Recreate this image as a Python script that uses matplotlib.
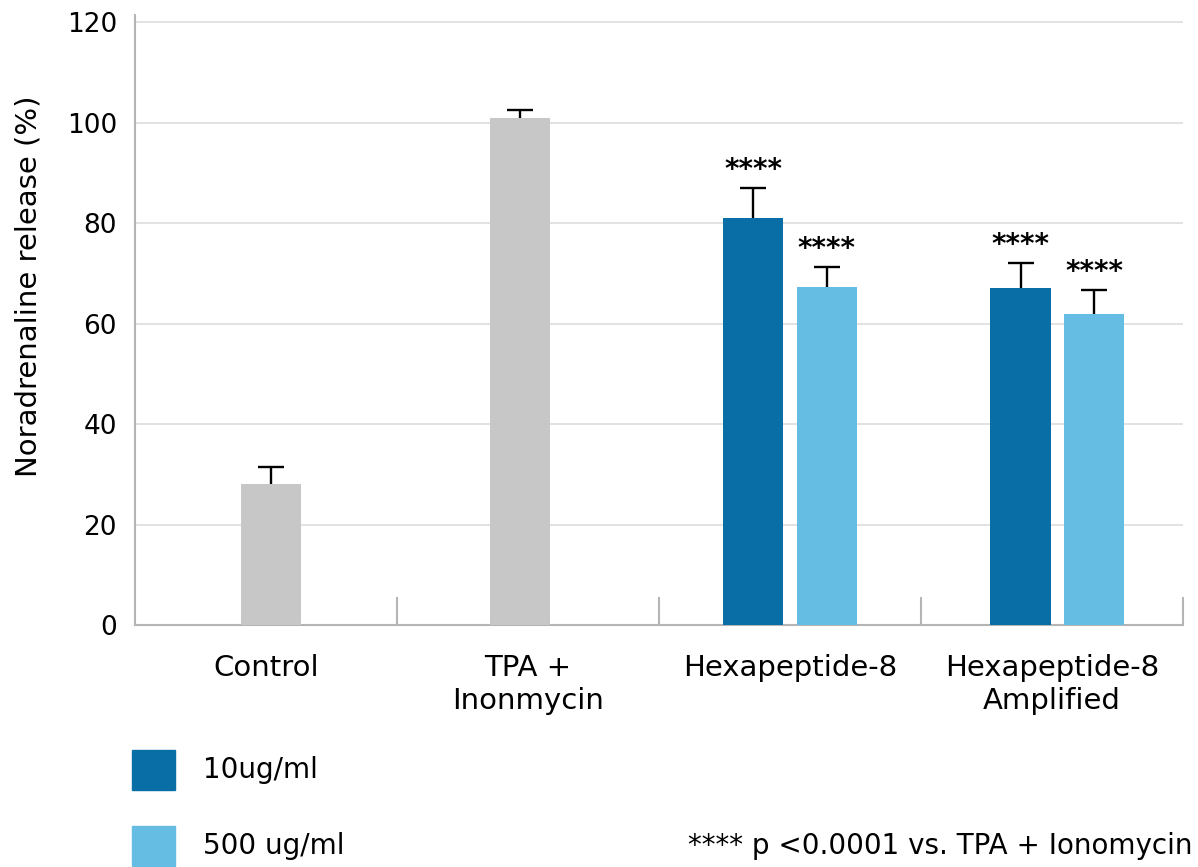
import numpy as np
import matplotlib
matplotlib.use("Agg")
import matplotlib.pyplot as plt
from matplotlib.patches import Rectangle

plt.rcParams["font.family"] = ["DejaVu Sans"]

categories = ["Control", "TPA +\nInonmycin", "Hexapeptide-8", "Hexapeptide-8\nAmplified"]
single_values = [28, 101]
single_errors = [3.4, 1.4]
dose_labels = ["10ug/ml", "500 ug/ml"]
low_dose_values = [81, 67]
low_dose_errors = [6, 5]
high_dose_values = [67.2, 62]
high_dose_errors = [4, 4.7]
star_text = "****"
footnote = "**** p <0.0001 vs. TPA + Ionomycin"
y_label = "Noradrenaline release (%)"
y_ticks = [0, 20, 40, 60, 80, 100, 120]

GRAY = "#C8C7C8"
DARK = "#0A6EA6"
LIGHT = "#66BDE3"

fig = plt.figure(figsize=(11.98, 8.67), dpi=100)
ax = fig.add_axes([0.1127, 0.279, 0.8748, 0.7037])

width = 0.23
offset = 0.14
err_kw = dict(color="black", linewidth=0, elinewidth=1.7, capsize=9.5,
              capthick=1.7, zorder=4)


def up_errorbar(xs, vals, errs):
    # only the upper whisker is drawn in the original
    _, caps, _ = ax.errorbar(xs, vals, yerr=[np.zeros(len(errs)), errs], **err_kw)
    caps[0].set_visible(False)


x_single = np.arange(len(single_values)) + np.array([0.02, -0.03])
ax.bar(x_single, single_values, width, color=GRAY, zorder=3)
up_errorbar(x_single, single_values, single_errors)

x_pair = np.arange(len(single_values), len(categories)) + np.array([0.0, 0.02])
ax.bar(x_pair - offset, low_dose_values, width, color=DARK, zorder=3)
ax.bar(x_pair + offset, high_dose_values, width, color=LIGHT, zorder=3)
up_errorbar(x_pair - offset, low_dose_values, low_dose_errors)
up_errorbar(x_pair + offset, high_dose_values, high_dose_errors)

# significance stars above the error caps
for xs, vals, errs in [(x_pair - offset, low_dose_values, low_dose_errors),
                       (x_pair + offset, high_dose_values, high_dose_errors)]:
    for x, v, e in zip(xs, vals, errs):
        ax.annotate(star_text, (x, v + e), xytext=(0, 3), textcoords="offset points",
                    ha="center", va="bottom", fontsize=20, fontweight="bold")

ax.set_xlim(-0.5, len(categories) - 0.5)
ax.set_ylim(0, 121.4)
ax.set_yticks(y_ticks)
ax.yaxis.grid(True, color="#DDDDDD", linewidth=1.2, zorder=0)
ax.set_axisbelow(True)

ax.set_xticks(np.arange(len(categories)))
ax.set_xticklabels(categories, fontsize=21, linespacing=1.2)
ax.set_xticks(np.arange(len(categories)) + 0.5, minor=True)
ax.tick_params(axis="x", which="major", length=0, pad=21)
ax.tick_params(axis="x", which="minor", direction="in", length=20,
               width=1.5, color="#B5B5B5")
ax.tick_params(axis="y", length=0, pad=13, labelsize=19)

for side in ["top", "right"]:
    ax.spines[side].set_visible(False)
for side in ["left", "bottom"]:
    ax.spines[side].set_color("#B5B5B5")
    ax.spines[side].set_linewidth(1.5)

ax.set_ylabel(y_label, fontsize=21)
ax.yaxis.set_label_coords(-0.088, 0.555)

# legend drawn by hand below the chart
for i, (lab, col) in enumerate(zip(dose_labels, [DARK, LIGHT])):
    y = 1 - (790 + 76 * i) / 867
    fig.add_artist(Rectangle((132 / 1198, y), 43 / 1198, 40 / 867,
                             transform=fig.transFigure, color=col))
    fig.text(203 / 1198, y + 20 / 867, lab, fontsize=20, va="center", ha="left")

fig.text(1192 / 1198, 1 - 846 / 867, footnote, fontsize=20, va="center", ha="right")

fig.savefig("out.png", dpi=100)
